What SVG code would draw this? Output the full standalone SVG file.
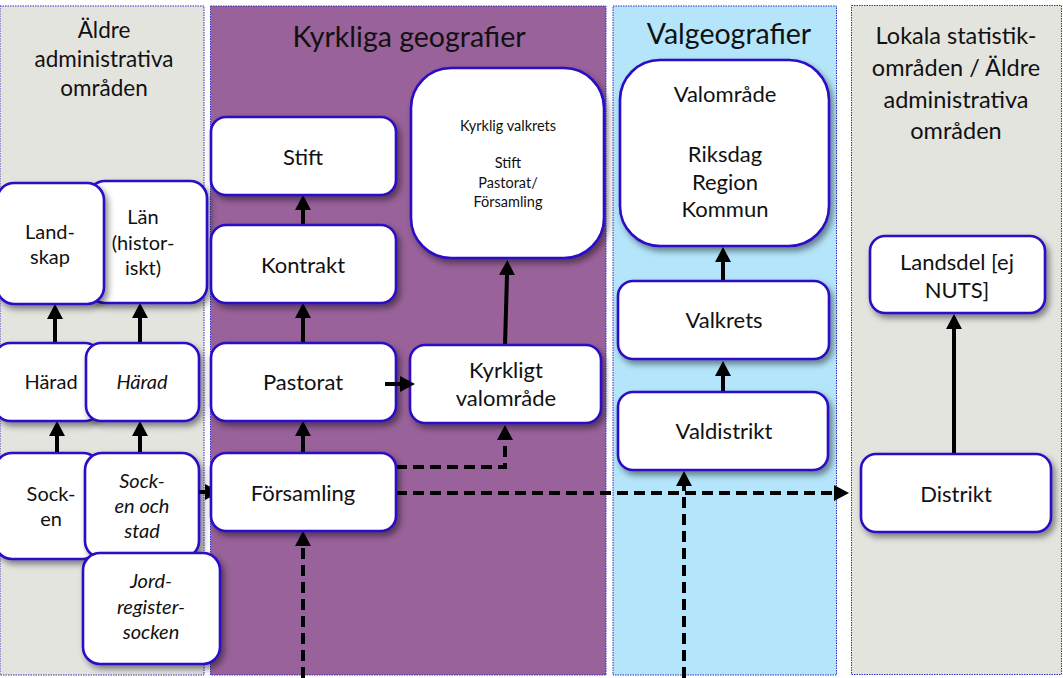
<svg xmlns="http://www.w3.org/2000/svg" width="1063" height="678" viewBox="0 0 1063 678">
<style>
.panel{stroke:#3030C0;stroke-width:1;stroke-dasharray:1.5 1}
.box{fill:#FFFFFF;stroke:#2A0BC4;stroke-width:2.6;filter:url(#sh)}
text{font-family:Lato,"Liberation Sans",sans-serif;fill:#111;text-anchor:middle}
.t{font-size:22px}
.s{font-size:20px}
.i{font-style:italic}
.title{font-size:28.5px}
.ptitle{font-size:22.5px}
.ptitle4{font-size:23.5px}
.small{font-size:14.5px}
.con{fill:none;stroke:#000;stroke-width:4}
.dash{stroke-dasharray:11 6}
</style>
<defs>
<filter id="sh" x="-20%" y="-20%" width="150%" height="150%">
<feDropShadow dx="3" dy="4" stdDeviation="3" flood-color="#000" flood-opacity="0.45"/>
</filter>
<marker id="ah" viewBox="0 0 15 16" refX="0" refY="8" markerWidth="15" markerHeight="16" markerUnits="userSpaceOnUse" orient="auto">
<path d="M0,0 L15,8 L0,16 z" fill="#000"/>
</marker>
</defs>
<rect width="1063" height="678" fill="#FFFFFF"/>
<g id="panels">
<rect class="panel" x="0" y="6" width="204" height="669" fill="#E4E4DF"/>
<rect class="panel" x="210.5" y="6" width="395.5" height="669" fill="#99629A"/>
<rect class="panel" x="613" y="6" width="223.5" height="669" fill="#B4E5FA"/>
<rect class="panel" x="851.5" y="5.5" width="210" height="669" fill="#E4E4DF"/>
<text class="ptitle" x="104" y="38">Äldre</text>
<text class="ptitle" x="104" y="67">administrativa</text>
<text class="ptitle" x="104" y="96">områden</text>
<text class="title" x="409" y="47">Kyrkliga geografier</text>
<text class="title" x="729" y="44">Valgeografier</text>
<text class="ptitle4" x="956" y="44">Lokala statistik-</text>
<text class="ptitle4" x="956" y="76">områden / Äldre</text>
<text class="ptitle4" x="956" y="108">administrativa</text>
<text class="ptitle4" x="956" y="139">områden</text>
</g>
<g id="connectors">
<path class="con" d="M55,343 V319" marker-end="url(#ah)"/>
<path class="con" d="M140,343 V318" marker-end="url(#ah)"/>
<path class="con" d="M57,453 V436" marker-end="url(#ah)"/>
<path class="con" d="M140,453 V436" marker-end="url(#ah)"/>
<path class="con" d="M303,225 V210" marker-end="url(#ah)"/>
<path class="con" d="M303,343 V318" marker-end="url(#ah)"/>
<path class="con" d="M303,453 V436" marker-end="url(#ah)"/>
<path class="con" d="M505,345 L507,275" marker-end="url(#ah)"/>
<path class="con dash" d="M396,467 H505 V440" marker-end="url(#ah)"/>
<path class="con dash" d="M396,493 H834" marker-end="url(#ah)"/>
<path class="con dash" d="M303,678 V546" marker-end="url(#ah)"/>
<path class="con dash" d="M684,678 V486" marker-end="url(#ah)"/>
<path class="con" d="M723,281 V262" marker-end="url(#ah)"/>
<path class="con" d="M723,392 V376" marker-end="url(#ah)"/>
<path class="con" d="M954,453 V329" marker-end="url(#ah)"/>
</g>
<g id="n-lan"><rect class="box" x="88" y="181" width="119" height="122" rx="17"/>
<text class="s" x="143" y="224">Län</text><text class="s" x="143" y="250">(histor-</text><text class="s" x="143" y="275">iskt)</text></g>
<g id="n-landskap"><rect class="box" x="-3" y="183" width="107" height="121" rx="17"/>
<text class="s" x="50" y="239">Land-</text><text class="s" x="50" y="264">skap</text></g>
<g id="n-harad"><rect class="box" x="-5" y="343" width="105" height="78" rx="15"/>
<text class="s" x="51" y="389">Härad</text></g>
<g id="n-harad2"><rect class="box" x="86" y="343" width="113" height="78" rx="15"/>
<text class="s i" x="142" y="389">Härad</text></g>
<g id="n-socken"><rect class="box" x="-5" y="453" width="105" height="106" rx="17"/>
<text class="s" x="51" y="501">Sock-</text><text class="s" x="51" y="526">en</text></g>
<g id="n-sockenstad"><rect class="box" x="85" y="453" width="114" height="105" rx="17"/>
<text class="s i" x="142" y="488">Sock-</text><text class="s i" x="142" y="513">en och</text><text class="s i" x="142" y="538">stad</text></g>
<g id="n-jord"><rect class="box" x="83" y="553" width="137" height="111" rx="17"/>
<text class="s i" x="151" y="588">Jord-</text><text class="s i" x="151" y="614">register-</text><text class="s i" x="151" y="639">socken</text></g>
<path class="con" d="M199,492 H205" marker-end="url(#ah)"/>
<g id="n-stift"><rect class="box" x="211" y="117" width="185" height="78" rx="15"/>
<text class="t" x="303" y="165">Stift</text></g>
<g id="n-kontrakt"><rect class="box" x="211" y="225" width="185" height="78" rx="15"/>
<text class="t" x="303" y="273">Kontrakt</text></g>
<g id="n-pastorat"><rect class="box" x="211" y="343" width="185" height="78" rx="15"/>
<text class="t" x="303" y="390">Pastorat</text></g>
<g id="n-forsamling"><rect class="box" x="211" y="453" width="185" height="78" rx="15"/>
<text class="t" x="303" y="501">Församling</text></g>
<g id="n-kyrkvalkrets"><rect class="box" x="411" y="68" width="193" height="190" rx="40"/>
<text class="small" x="508" y="131">Kyrklig valkrets</text>
<text class="small" x="508" y="168">Stift</text><text class="small" x="508" y="188">Pastorat/</text><text class="small" x="508" y="207">Församling</text></g>
<g id="n-kyrkvalomr"><rect class="box" x="410" y="345" width="191" height="78" rx="15"/>
<text class="t" x="506" y="378">Kyrkligt</text><text class="t" x="506" y="406">valområde</text></g>
<path class="con" d="M385,384 H400" marker-end="url(#ah)"/>
<g id="n-valomrade"><rect class="box" x="620" y="60" width="209" height="186" rx="40"/>
<text class="t" x="725" y="102">Valområde</text>
<text class="t" x="725" y="162">Riksdag</text><text class="t" x="725" y="190">Region</text><text class="t" x="725" y="217">Kommun</text></g>
<g id="n-valkrets"><rect class="box" x="618" y="281" width="211" height="78" rx="15"/>
<text class="t" x="724" y="328">Valkrets</text></g>
<g id="n-valdistrikt"><rect class="box" x="618" y="392" width="210" height="78" rx="15"/>
<text class="t" x="724" y="439">Valdistrikt</text></g>
<g id="n-landsdel"><rect class="box" x="870" y="236" width="175" height="77" rx="15"/>
<text class="t" x="957" y="270">Landsdel [ej</text><text class="t" x="957" y="298">NUTS]</text></g>
<g id="n-distrikt"><rect class="box" x="861" y="454" width="190" height="78" rx="15"/>
<text class="t" x="956" y="502">Distrikt</text></g>
</svg>
